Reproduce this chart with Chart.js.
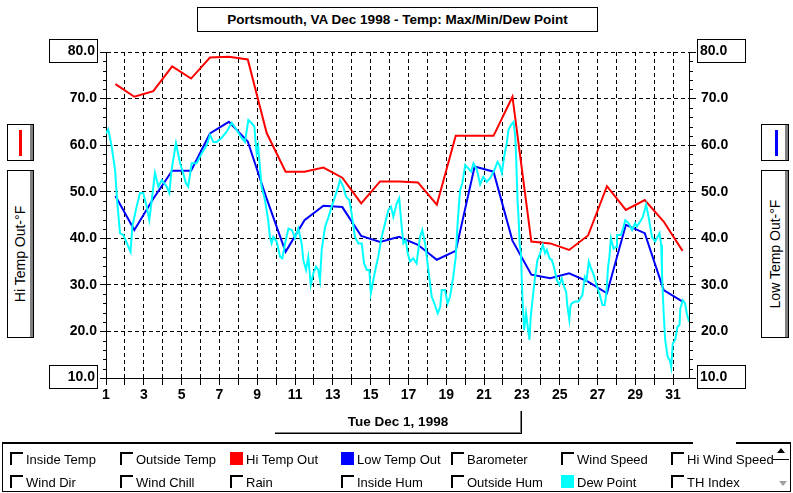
<!DOCTYPE html>
<html lang="en">
<head>
<meta charset="UTF-8">
<title>Portsmouth, VA Dec 1998 - Temp: Max/Min/Dew Point</title>
<script src="https://cdn.jsdelivr.net/npm/chart.js"></script>
<style>
    body {
        margin: 0;
        background: #fff;
        font-family: "Liberation Sans", Arial, sans-serif;
        color: #000;
    }
    #wrap { position: relative; width: 793px; height: 493px; overflow: hidden; }
    #tempChart { position: absolute; left: 0; top: 0; }
    .abs { position: absolute; box-sizing: border-box; }
    .boxed { border: 1px solid #000; background: #fff; }
    .shadowed { box-shadow: inset -3px 0 0 #808080; }
    #title {
        left: 197px; top: 7px; width: 401px; height: 25px;
        font: bold 13.5px "Liberation Sans", Arial, sans-serif;
        line-height: 23px; text-align: center;
    }
    .vtext {
        position: absolute; left: 50%; top: 50%;
        transform: translate(-50%, -50%) rotate(-90deg);
        white-space: nowrap; font-size: 14px;
    }
    #dateBox {
        left: 275px; top: 411px; width: 247px; height: 23px;
        border-right: 1px solid #000; border-bottom: 1px solid #000;
        box-shadow: inset -1px -1px 0 #808080;
        font: bold 13.5px "Liberation Sans", Arial, sans-serif;
        line-height: 22px; text-align: center;
    }
    #legendPanel {
        left: 2px; top: 442px; width: 789px; height: 50px;
        border: 1px solid #000; border-top-width: 2px;
    }
    .chk { position: absolute; width: 13px; height: 13px; box-sizing: border-box; }
    .chk.off { border-top: 2px solid #000; border-left: 2px solid #000; }
    .lbl { position: absolute; font-size: 13px; line-height: 13px; white-space: nowrap; }
</style>
</head>
<body>
<div id="wrap">
    <canvas id="tempChart" width="793" height="493"></canvas>

    <div id="title" class="abs boxed">Portsmouth, VA Dec 1998 - Temp: Max/Min/Dew Point</div>

    <!-- left axis legend -->
    <div class="abs boxed shadowed" style="left:7px;top:124px;width:27px;height:37px;">
        <div class="abs" style="left:11px;top:5px;width:3px;height:26px;background:#f00;"></div>
    </div>
    <div class="abs boxed shadowed" style="left:7px;top:170px;width:27px;height:168px;">
        <div class="vtext" style="margin-left:-1px;">Hi Temp Out-°F</div>
    </div>

    <!-- right axis legend -->
    <div class="abs boxed shadowed" style="left:761px;top:124px;width:28px;height:37px;">
        <div class="abs" style="left:13px;top:5px;width:3px;height:26px;background:#00f;"></div>
    </div>
    <div class="abs boxed shadowed" style="left:761px;top:170px;width:28px;height:168px;">
        <div class="vtext" style="margin-left:0px;">Low Temp Out-°F</div>
    </div>

    <div id="dateBox" class="abs">Tue Dec 1, 1998</div>

    <div id="legendPanel" class="abs"></div>
    <div class="abs" style="left:693px;top:441px;width:43px;height:4px;background:#fff;"></div>
    <!-- scroll buttons -->
    <div class="abs" style="left:773px;top:459px;width:16px;height:1px;background:#000;"></div>
    <div class="abs" style="left:777px;top:448px;width:0;height:0;border-left:4px solid transparent;border-right:4px solid transparent;border-bottom:5px solid #000;"></div>
    <div class="abs" style="left:779px;top:481px;width:0;height:0;border-left:4px solid transparent;border-right:4px solid transparent;border-top:5px solid #a0a0a0;"></div>
</div>

<script>
    // Daily Hi / Low temperatures (plotted at noon of each day)
    const days = [1.5, 2.5, 3.5, 4.5, 5.5, 6.5, 7.5, 8.5, 9.5, 10.5, 11.5, 12.5, 13.5, 14.5, 15.5, 16.5,
                  17.5, 18.5, 19.5, 20.5, 21.5, 22.5, 23.5, 24.5, 25.5, 26.5, 27.5, 28.5, 29.5, 30.5, 31.5];
    const hiTempOut = [73.1, 70.4, 71.6, 76.9, 74.3, 78.8, 79.0, 78.4, 62.6, 54.3, 54.3, 55.2, 53.0, 47.5, 52.2, 52.2,
                       52.0, 47.2, 62.0, 62.0, 62.0, 70.4, 39.3, 38.9, 37.5, 40.6, 51.2, 46.1, 48.2, 43.6, 37.3];
    const lowTempOut = [49.1, 41.8, 48.5, 54.5, 54.5, 62.5, 65.0, 60.8, 48.5, 37.1, 43.9, 47.0, 46.7, 40.5, 39.2, 40.3,
                        38.6, 35.4, 37.3, 55.4, 54.3, 39.5, 32.2, 31.4, 32.5, 30.7, 28.2, 42.9, 41.1, 28.9, 26.4];

    // Dew point readings through the month (day of month, deg F)
    const dewTime = [1.0, 1.12, 1.3, 1.48, 1.6, 1.74, 1.92, 2.18, 2.3, 2.39, 2.62, 2.8, 2.97, 3.15, 3.29, 3.42,
        3.59, 3.77, 3.95, 4.21, 4.35, 4.47, 4.7, 4.92, 5.08, 5.23, 5.35, 5.53, 5.79, 6.06, 6.33, 6.5,
        6.68, 6.86, 7.11, 7.38, 7.65, 7.91, 8.18, 8.35, 8.53, 8.71, 8.85, 8.89, 8.97, 9.05, 9.23, 9.41,
        9.58, 9.67, 9.76, 9.85, 10.03, 10.21, 10.33, 10.47, 10.65, 10.83, 11.0, 11.17, 11.35, 11.44, 11.58, 11.7,
        11.83, 11.97, 12.11, 12.23, 12.32, 12.41, 12.59, 12.77, 12.94, 13.11, 13.29, 13.38, 13.55, 13.7, 13.87, 13.99,
        14.17, 14.35, 14.53, 14.65, 14.8, 14.93, 15.01, 15.14, 15.28, 15.4, 15.58, 15.76, 15.94, 16.08, 16.2, 16.38,
        16.51, 16.61, 16.73, 16.86, 16.96, 17.08, 17.25, 17.43, 17.61, 17.73, 17.88, 18.01, 18.14, 18.23, 18.37, 18.55,
        18.68, 18.76, 18.93, 19.07, 19.2, 19.37, 19.5, 19.6, 19.73, 19.85, 20.0, 20.17, 20.31, 20.44, 20.62, 20.79,
        20.96, 21.14, 21.32, 21.46, 21.58, 21.71, 21.82, 21.94, 22.06, 22.2, 22.29, 22.42, 22.56, 22.65, 22.7, 22.77,
        22.83, 22.88, 22.95, 23.0, 23.06, 23.12, 23.22, 23.31, 23.4, 23.47, 23.58, 23.7, 23.82, 23.97, 24.11, 24.23,
        24.32, 24.46, 24.59, 24.71, 24.85, 24.98, 25.11, 25.23, 25.34, 25.41, 25.51, 25.57, 25.63, 25.81, 25.99, 26.2,
        26.33, 26.42, 26.54, 26.65, 26.77, 26.98, 27.12, 27.26, 27.38, 27.47, 27.56, 27.63, 27.71, 27.85, 27.99, 28.03,
        28.24, 28.35, 28.47, 28.65, 28.83, 28.99, 29.08, 29.26, 29.4, 29.57, 29.7, 29.88, 30.05, 30.28, 30.37, 30.41,
        30.5, 30.58, 30.71, 30.85, 30.9, 30.98, 31.11, 31.23, 31.34, 31.38, 31.51, 31.63, 31.72, 31.84];
    const dewPoint = [62.5, 63.4, 59.7, 54.7, 47.5, 41.1, 40.7, 38.2, 37.1, 42.5, 46.8, 49.7, 49.7, 46.8, 43.9, 48.2,
        54.0, 51.1, 52.5, 51.1, 49.7, 54.7, 60.4, 56.1, 54.0, 51.8, 51.1, 56.1, 56.1, 58.2, 60.0, 62.2,
        60.7, 60.7, 61.5, 62.9, 64.8, 63.3, 61.5, 60.7, 65.4, 64.7, 64.0, 61.8, 58.2, 59.7, 51.1, 48.2,
        43.9, 40.3, 38.9, 40.3, 39.3, 36.0, 35.7, 38.9, 42.1, 41.8, 40.0, 42.1, 38.9, 35.3, 33.2, 36.0,
        30.0, 32.5, 33.9, 33.2, 31.0, 37.5, 42.5, 44.6, 46.8, 48.9, 51.1, 52.5, 51.1, 48.9, 48.2, 45.4,
        40.3, 38.9, 38.9, 34.6, 33.2, 33.2, 28.2, 31.0, 33.9, 36.0, 40.3, 43.2, 46.1, 46.8, 44.6, 47.5,
        48.6, 43.9, 38.9, 39.6, 36.8, 35.0, 35.7, 34.6, 40.3, 41.8, 38.9, 34.6, 30.3, 27.5, 26.0, 23.9,
        25.3, 28.9, 28.9, 26.0, 27.5, 31.7, 36.0, 43.2, 50.4, 51.8, 55.7, 55.0, 54.3, 56.1, 54.7, 51.6,
        53.2, 52.1, 52.9, 54.0, 55.0, 56.4, 55.7, 54.0, 57.5, 60.4, 63.3, 64.3, 65.0, 61.8, 56.8, 48.2,
        43.9, 38.9, 36.8, 30.3, 24.6, 20.3, 23.9, 21.0, 18.2, 23.2, 27.5, 31.7, 35.3, 36.8, 38.6, 36.8,
        37.5, 35.7, 35.3, 33.6, 31.0, 30.0, 31.4, 29.6, 28.5, 25.3, 22.5, 25.5, 26.0, 26.4, 26.4, 27.8,
        31.7, 31.0, 35.0, 33.6, 32.5, 29.6, 27.8, 25.7, 25.7, 28.2, 33.9, 36.0, 40.0, 37.8, 38.2, 40.7,
        40.7, 42.1, 43.9, 43.2, 41.8, 43.2, 42.5, 43.6, 44.6, 47.2, 44.6, 40.3, 39.3, 41.1, 38.6, 32.5,
        23.9, 18.2, 14.6, 13.5, 12.4, 17.4, 18.2, 21.0, 21.4, 24.9, 26.7, 26.0, 23.9, 22.1];

    // axis settings
    const dayLabels = [1, 3, 5, 7, 9, 11, 13, 15, 17, 19, 21, 23, 25, 27, 29, 31];
    const firstDay = 1;
    const lastDay = 31.84;
    const tempMin = 10;
    const tempMax = 80;

    // bottom legend entries (row by row); colour for the shown series
    const legendRow1 = [['Inside Temp'], ['Outside Temp'], ['Hi Temp Out', '#ff0000'], ['Low Temp Out', '#0000ff'],
                        ['Barometer'], ['Wind Speed'], ['Hi Wind Speed']];
    const legendRow2 = [['Wind Dir'], ['Wind Chill'], ['Rain'], ['Inside Hum'], ['Outside Hum'],
                        ['Dew Point', '#00ffff'], ['TH Index']];

    const wrap = document.getElementById('wrap');
    [legendRow1, legendRow2].forEach((row, r) => {
        row.forEach((item, c) => {
            const x = Math.round(10 + c * 110.2);
            const y = 452 + r * 23;
            const box = document.createElement('span');
            box.className = 'chk' + (item[1] ? '' : ' off');
            box.style.left = x + 'px';
            box.style.top = y + 'px';
            if (item[1]) box.style.background = item[1];
            wrap.appendChild(box);
            const lbl = document.createElement('span');
            lbl.className = 'lbl';
            lbl.style.left = (x + 16) + 'px';
            lbl.style.top = (y + 1) + 'px';
            lbl.textContent = item[0];
            wrap.appendChild(lbl);
        });
    });

    // minor ticks and the boxed min / max values on both temperature axes
    const axisExtras = {
        id: 'axisExtras',
        afterDraw(chart) {
            const ctx = chart.ctx;
            const yScale = chart.scales.y;
            const area = chart.chartArea;
            ctx.save();
            ctx.strokeStyle = '#000';
            ctx.lineWidth = 1;
            ctx.beginPath();
            for (let v = tempMin; v <= tempMax; v += 2) {
                if (v % 10 === 0) continue;
                const py = Math.round(yScale.getPixelForValue(v)) + 0.5;
                ctx.moveTo(area.left - 3, py);
                ctx.lineTo(area.left, py);
                ctx.moveTo(area.right, py);
                ctx.lineTo(area.right + 4, py);
            }
            ctx.stroke();

            ctx.font = 'bold 14px "Liberation Sans", Arial, sans-serif';
            ctx.fillStyle = '#000';
            ctx.textBaseline = 'middle';
            [tempMax, tempMin].forEach(v => {
                const py = Math.round(yScale.getPixelForValue(v));
                ctx.strokeRect(49.5, py - 12.5, 48, 23);
                ctx.strokeRect(697.5, py - 12.5, 48, 23);
                ctx.textAlign = 'right';
                ctx.fillText(v.toFixed(1), 95, py - 1);
                ctx.textAlign = 'left';
                ctx.fillText(v.toFixed(1), 700, py - 1);
            });
            ctx.restore();
        }
    };

    const tickFont = { family: '"Liberation Sans", Arial, sans-serif', size: 14, weight: 'bold' };

    const ctx = document.getElementById('tempChart').getContext('2d');
    const tempChart = new Chart(ctx, {
        type: 'line',
        data: {
            datasets: [
                {
                    label: 'Dew Point',
                    data: dewTime.map((d, i) => ({ x: d, y: dewPoint[i] })),
                    borderColor: '#00ffff',
                    borderWidth: 2
                },
                {
                    label: 'Low Temp Out',
                    data: days.map((d, i) => ({ x: d, y: lowTempOut[i] })),
                    borderColor: '#0000ff',
                    borderWidth: 2
                },
                {
                    label: 'Hi Temp Out',
                    data: days.map((d, i) => ({ x: d, y: hiTempOut[i] })),
                    borderColor: '#ff0000',
                    borderWidth: 2
                }
            ]
        },
        options: {
            responsive: false,
            animation: false,
            events: [],
            layout: { padding: { top: 52, left: 0, right: 0, bottom: 0 } },
            elements: {
                point: { radius: 0 },
                line: { tension: 0, borderJoinStyle: 'miter' }
            },
            plugins: {
                legend: { display: false },
                tooltip: { enabled: false },
                title: { display: false }
            },
            scales: {
                x: {
                    type: 'linear',
                    min: firstDay,
                    max: lastDay,
                    afterFit: s => { s.height = 115; },
                    border: { display: true, color: '#000', width: 1, dash: [4, 3] },
                    grid: { color: '#000', lineWidth: 1, tickLength: 7, tickColor: '#000', tickBorderDash: [] },
                    ticks: {
                        stepSize: 1,
                        includeBounds: false,
                        autoSkip: false,
                        maxRotation: 0,
                        padding: 2,
                        color: '#000',
                        font: tickFont,
                        callback: v => dayLabels.includes(v) ? String(v) : ''
                    }
                },
                y: {
                    position: 'left',
                    min: tempMin,
                    max: tempMax,
                    afterFit: s => { s.width = 106; },
                    border: { display: true, color: '#000', width: 1, dash: [4, 3] },
                    grid: { color: '#000', lineWidth: 1, tickLength: 6, tickColor: '#000', tickBorderDash: [] },
                    ticks: {
                        stepSize: 10,
                        padding: 3,
                        color: '#000',
                        font: tickFont,
                        callback: v => (v === tempMin || v === tempMax) ? '' : v.toFixed(1)
                    }
                },
                y2: {
                    position: 'right',
                    min: tempMin,
                    max: tempMax,
                    afterFit: s => { s.width = 104; },
                    border: { display: true, color: '#000', width: 1 },
                    grid: { drawOnChartArea: false, tickLength: 7, tickColor: '#000' },
                    ticks: {
                        stepSize: 10,
                        padding: 5,
                        color: '#000',
                        font: tickFont,
                        callback: v => (v === tempMin || v === tempMax) ? '' : v.toFixed(1)
                    }
                }
            }
        },
        plugins: [axisExtras]
    });
</script>
</body>
</html>
